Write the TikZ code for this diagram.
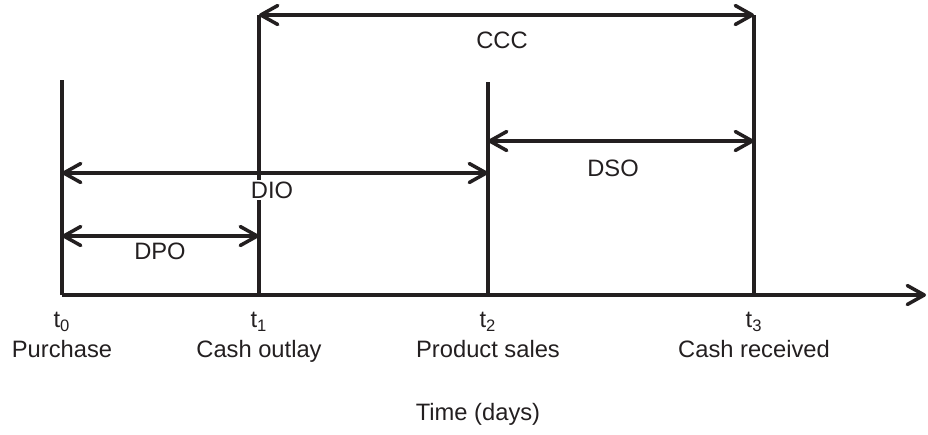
\documentclass[tikz,border=0pt]{standalone}
\usepackage{fontspec}
\setmainfont{Liberation Sans}
\usetikzlibrary{arrows.meta, positioning}
\definecolor{linec}{RGB}{35,31,32}
\tikzset{
  barb/.tip={Straight Barb[length=3.4mm, width=3.8mm, line cap=round, line join=round]},
  bar/.style={line width=2pt, draw=linec},
  span/.style={bar, barb-barb},
  spanlbl/.style={inner sep=1pt, fill=white},
  evlbl/.style={align=center, inner sep=0pt, anchor=north}
}

\begin{document}
\begin{tikzpicture}[x=0.02cm, y=-0.02cm, font=\fontsize{13.5}{17}\selectfont, text=linec]
  \useasboundingbox (0,0) rectangle (928,434);
  % time axis
  \coordinate (t0) at (62,295);
  \coordinate (t1) at (259,295);
  \coordinate (t2) at (488,295);
  \coordinate (t3) at (754,295);
  \coordinate (tend) at (926,295);
  \draw[bar, -barb] (t0) -- (tend);
  % event lines
  \coordinate (top0) at (62,80);
  \coordinate (top1) at (259,15);
  \coordinate (top2) at (488,82);
  \coordinate (top3) at (754,15);
  \draw[bar] (t0) -- (top0);
  \draw[bar] (t1) -- (top1);
  \draw[bar] (t2) -- (top2);
  \draw[bar] (t3) -- (top3);
  % spans between events
  \coordinate (dpoL) at (62,236);  \coordinate (dpoR) at (259,236);
  \coordinate (dioL) at (62,173);  \coordinate (dioR) at (488,173);
  \coordinate (dsoL) at (488,141); \coordinate (dsoR) at (754,141);
  \draw[span] (top1) -- (top3);
  \draw[span] (dsoL) -- (dsoR);
  \draw[span] (dioL) -- (dioR);
  \draw[span] (dpoL) -- (dpoR);
  \node[spanlbl] (ccc) at (502,40) {CCC};
  \node[spanlbl] (dso) at (613,168) {DSO};
  \node[spanlbl] (dio) at (272,190) {DIO};
  \node[spanlbl] (dpo) at (160,251) {DPO};
  % event labels
  \node[evlbl] (ev0) at (62,312) {t\textsubscript{0}\\Purchase};
  \node[evlbl] (ev1) at (259,312) {t\textsubscript{1}\\Cash outlay};
  \node[evlbl] (ev2) at (488,312) {t\textsubscript{2}\\Product sales};
  \node[evlbl] (ev3) at (754,312) {t\textsubscript{3}\\Cash received};
  \node (axislbl) at (478,414) {Time (days)};
\end{tikzpicture}
\end{document}
